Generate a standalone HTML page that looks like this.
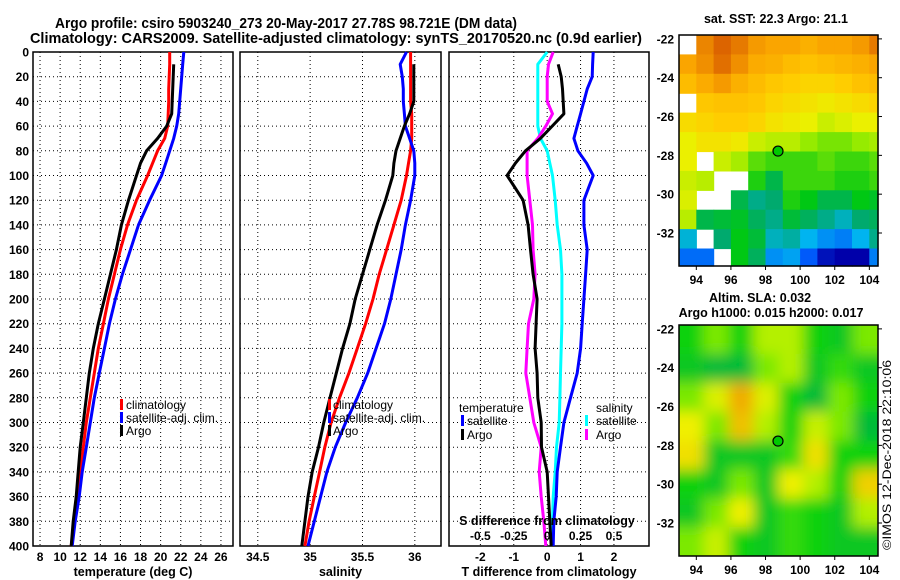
<!DOCTYPE html>
<html><head><meta charset="utf-8"><style>
html,body{margin:0;padding:0;background:#fff;}
svg{display:block;font-family:"Liberation Sans",sans-serif;font-weight:bold;}
</style></head><body>
<svg id="fig" width="900" height="580" viewBox="0 0 900 580" xmlns="http://www.w3.org/2000/svg">
<rect width="900" height="580" fill="#fff"/>
<text x="55" y="28" font-size="15" textLength="462" lengthAdjust="spacingAndGlyphs">Argo profile: csiro 5903240_273 20-May-2017 27.78S 98.721E (DM data)</text>
<text x="30" y="43" font-size="15" textLength="612" lengthAdjust="spacingAndGlyphs">Climatology: CARS2009. Satellite-adjusted climatology: synTS_20170520.nc (0.9d earlier)</text>
<g id="panels"></g>
<g id="maps"></g>
<text transform="translate(891,455) rotate(-90)" font-size="12" font-weight="normal" text-anchor="middle" textLength="190" lengthAdjust="spacingAndGlyphs">©IMOS 12-Dec-2018 22:10:06</text>
</svg>
<script>
// ---- profile data (depth in m) ----
const depths = [0,10,20,30,40,50,60,70,80,90,100,120,140,160,180,200,220,240,260,280,300,320,340,360,380,400];
const tempClim = [20.9,20.9,20.85,20.8,20.8,20.75,20.7,20.4,19.7,19.2,18.7,17.6,16.7,16.0,15.4,14.8,14.3,13.8,13.4,13.0,12.6,12.3,12.0,11.7,11.4,11.1];
const tempSat = [22.3,22.2,22.1,22.0,21.9,21.8,21.6,21.3,20.9,20.5,20.1,18.9,17.8,17.0,16.2,15.5,14.9,14.4,13.9,13.4,13.0,12.6,12.2,11.9,11.5,11.2];
const tempArgo = [null,21.3,21.25,21.2,21.15,21.1,20.6,19.7,18.6,18.0,17.6,16.8,16.1,15.6,15.0,14.4,13.8,13.3,12.9,12.6,12.3,12.0,11.8,11.6,11.3,11.1];
const salClim = [35.96,35.96,35.96,35.96,35.96,35.97,35.97,35.97,35.96,35.94,35.92,35.87,35.80,35.73,35.66,35.60,35.53,35.45,35.37,35.28,35.20,35.14,35.09,35.04,34.99,34.95];
const salSat = [35.92,35.86,35.88,35.89,35.89,35.90,35.91,35.95,35.99,36.0,36.0,35.96,35.91,35.87,35.82,35.77,35.71,35.63,35.55,35.45,35.34,35.24,35.16,35.10,35.04,34.98];
const salArgo = [null,35.99,35.99,35.99,35.99,35.95,35.90,35.86,35.82,35.80,35.79,35.72,35.64,35.57,35.50,35.43,35.38,35.31,35.25,35.19,35.13,35.08,35.02,34.98,34.95,34.92];
const dTSat = [1.38,1.36,1.35,1.2,1.1,1.0,0.9,0.8,0.92,1.18,1.38,1.1,1.1,1.2,1.15,1.1,1.05,1.0,0.9,0.7,0.5,0.4,0.3,0.27,0.2,0.18];
const dTArgo = [null,0.33,0.42,0.46,0.48,0.5,0.15,-0.2,-0.65,-0.95,-1.2,-0.72,-0.57,-0.5,-0.42,-0.3,-0.33,-0.36,-0.3,-0.28,-0.18,-0.17,0.0,0.04,0.08,0.12];
const dSSat = [0.0,-0.07,-0.07,-0.07,-0.07,-0.07,-0.07,-0.05,0.0,0.02,0.04,0.06,0.075,0.1,0.11,0.11,0.11,0.105,0.1,0.095,0.09,0.07,0.06,0.045,0.04,0.04];
const dSArgo = [0.045,0.01,0.0,0.0,0.0,0.04,-0.01,-0.07,-0.15,-0.15,-0.15,-0.13,-0.11,-0.105,-0.09,-0.1,-0.14,-0.15,-0.16,-0.13,-0.1,-0.045,-0.06,-0.045,-0.025,-0.01];
const depthTicks = [0,20,40,60,80,100,120,140,160,180,200,220,240,260,280,300,320,340,360,380,400];
const tempTicks = [8,10,12,14,16,18,20,22,24,26];
const salTicks = [34.5,35,35.5,36];
const dTTicks = [-2,-1,0,1,2];
const dSTicks = [-0.5,-0.25,0,0.25,0.5];
const dSTickLabels = ['-0.5','-0.25','0','0.25','0.5'];
// ---- map data ----
const sstLons = [93,94,95,96,97,98,99,100,101,102,103,104,104.5];
const sstLats = [-21.8,-22.8,-23.8,-24.8,-25.8,-26.8,-27.8,-28.8,-29.8,-30.8,-31.8,-32.8,-33.7];
const sstGrid = [
[null,23.3,23.6,23.4,23.1,23.0,23.0,22.8,23.0,23.0,23.1,23.4],
[23.0,23.2,23.5,23.2,22.9,22.8,22.6,22.5,22.6,22.7,22.8,23.0],
[22.6,22.9,23.1,22.8,22.6,22.4,22.3,22.2,22.2,22.3,22.5,22.6],
[null,22.4,22.5,22.5,22.4,22.2,22.1,22.0,21.9,22.0,22.1,22.2],
[22.1,22.2,22.3,22.3,22.2,22.0,21.9,21.8,21.6,21.7,21.8,21.8],
[21.8,22.0,22.0,21.9,21.6,21.5,21.5,21.3,21.2,21.2,21.3,21.4],
[21.8,null,21.6,21.4,21.1,21.0,21.0,21.0,21.1,21.0,21.0,21.1],
[21.6,21.5,null,null,20.9,20.5,21.0,21.0,21.0,20.9,20.9,21.0],
[21.7,null,null,20.5,20.2,20.3,20.9,20.8,20.5,20.5,20.8,20.7],
[21.5,20.5,20.6,20.7,20.4,20.2,20.6,20.4,20.2,20.0,20.3,20.4],
[19.9,null,20.3,20.8,20.6,20.0,20.1,19.8,19.6,19.5,19.8,20.2],
[19.4,19.4,null,20.8,20.4,19.6,19.7,19.3,18.9,18.8,18.8,19.5]];
const slaGrid = [
[0.3,0.45,0.3,0.55,0.55,0.3,0.2,0.45],
[0.2,0.1,0.1,0.45,0.55,0.2,0.35,0.2],
[0.45,0.65,0.9,0.65,0.3,0.1,0.45,0.3],
[0.7,0.45,0.85,0.55,0.3,0.6,0.45,0.1],
[0.75,0.2,0.2,0.2,0.35,0.75,0.3,0.3],
[0.3,0.2,0.45,0.2,0.7,0.55,0.3,0.8],
[0.2,0.45,0.7,0.2,0.35,0.3,0.2,0.55],
[0.45,0.6,0.3,0.2,0.35,0.3,0.2,0.2]];
const lonTicks = [94,96,98,100,102,104];
const latTicks = [-22,-24,-26,-28,-30,-32];
const argoLon = 98.721, argoLat = -27.78;

const NS='http://www.w3.org/2000/svg';
function mk(tag, attrs, parent){const e=document.createElementNS(NS,tag);for(const k in attrs)e.setAttribute(k,attrs[k]);parent.appendChild(e);return e;}
const TOP=52, BOT=546;
const yD = d => TOP + d*(BOT-TOP)/400;
const panelsG = document.getElementById('panels');

function panel(name, x0, x1, xmin, xmax, ticks, tickLabels, title){
  const g = mk('g',{},panelsG);
  
  
  const sx = v => x0 + (v-xmin)*(x1-x0)/(xmax-xmin);
  depthTicks.forEach(d=>{ if(d>0&&d<400){const l=mk('line',{x1:x0,x2:x1,y1:yD(d),y2:yD(d),stroke:'#000','stroke-width':1,'stroke-dasharray':'1,3'},g);
    
    }});
  ticks.forEach((t,i)=>{const x=sx(t);
    const l=mk('line',{x1:x,x2:x,y1:TOP,y2:BOT,stroke:'#000','stroke-width':1,'stroke-dasharray':'1,3'},g);
    
    
    if(tickLabels){const tx=mk('text',{x:x,y:561,'font-size':12,'text-anchor':'middle'},g);tx.textContent=tickLabels[i];
      
      }
  });
  const fr=mk('rect',{x:x0,y:TOP,width:x1-x0,height:BOT-TOP,fill:'none',stroke:'#000','stroke-width':1.5},g);
  
  
  const tt=mk('text',{x:(x0+x1)/2,y:576,'font-size':12.5,'text-anchor':'middle'},g);tt.textContent=title;
  
  
  return {g,sx};
}
function series(p, vals, color, name, sxf){
  const f = sxf||p.sx; let d='';let pen=false;
  vals.forEach((v,i)=>{ if(v===null){pen=false;return;} d+=(pen?'L':'M')+f(v).toFixed(1)+','+yD(depths[i]).toFixed(1); pen=true;});
  const path=mk('path',{d:d,fill:'none',stroke:color,'stroke-width':3,'stroke-linejoin':'round'},p.g);
  
  
}
function legend(g,x,y,color,label,tx){
  const r=mk('rect',{x:x,y:y-9,width:3,height:11,fill:color},g);
  
  
  const t=mk('text',{x:tx,y:y+1,'font-size':12,'font-weight':'normal'},g);t.textContent=label;
  
  
}

depthTicks.forEach(d=>{const t=mk('text',{x:29,y:yD(d)+4.5,'font-size':12,'text-anchor':'end'},panelsG);t.textContent=d;
  
  });

const p1=panel('temperature-panel',33,233,7.3,27.2,tempTicks,tempTicks.map(String),'temperature (deg C)');
series(p1,tempClim,'#f00','temp-climatology-line');
series(p1,tempSat,'#00f','temp-satellite-line');
series(p1,tempArgo,'#000','temp-argo-line');
legend(p1.g,120,408,'#f00','climatology',126);
legend(p1.g,120,421,'#00f','satellite-adj. clim.',126);
legend(p1.g,120,434,'#000','Argo',126);

const p2=panel('salinity-panel',240,441,34.33,36.25,salTicks,['34.5','35','35.5','36'],'salinity');
series(p2,salClim,'#f00','sal-climatology-line');
series(p2,salSat,'#00f','sal-satellite-line');
series(p2,salArgo,'#000','sal-argo-line');
legend(p2.g,328,408,'#f00','climatology',333);
legend(p2.g,328,421,'#00f','satellite-adj. clim.',333);
legend(p2.g,328,434,'#000','Argo',333);

const p3=panel('difference-panel',449,649,-2.94,3.05,dTTicks,dTTicks.map(String),'T difference from climatology');
const sxS = v => p3.sx(v*4);
series(p3,dSSat,'#0ff','s-diff-satellite-line',sxS);
series(p3,dTSat,'#00f','t-diff-satellite-line');
series(p3,dSArgo,'#f0f','s-diff-argo-line',sxS);
series(p3,dTArgo,'#000','t-diff-argo-line');
(function(){
  const t1=mk('text',{x:459,y:412,'font-size':12,'font-weight':'normal'},p3.g);t1.textContent='temperature';
  
  
  const t2=mk('text',{x:596,y:412,'font-size':12,'font-weight':'normal'},p3.g);t2.textContent='salinity';
  
  
  legend(p3.g,461,424,'#00f','satellite',467);
  legend(p3.g,461,438,'#000','Argo',467);
  legend(p3.g,585,424,'#0ff','satellite',596);
  legend(p3.g,585,438,'#f0f','Argo',596);
  const st=mk('text',{x:547,y:525,'font-size':12.5,'text-anchor':'middle'},p3.g);st.textContent='S difference from climatology';
  
  
  dSTicks.forEach((v,i)=>{const t=mk('text',{x:sxS(v),y:540,'font-size':12,'text-anchor':'middle'},p3.g);t.textContent=dSTickLabels[i];
    
    });
})();

// ---- maps ----
const mapsG=document.getElementById('maps');
function lerpColor(stops,v){
  const rgb=a=>'rgb('+a.join(',')+')';
  if(v<=stops[0][0])return rgb(stops[0][1]);
  for(let i=1;i<stops.length;i++){if(v<=stops[i][0]){const a=stops[i-1],b=stops[i];const f=(v-a[0])/(b[0]-a[0]);
    return rgb([0,1,2].map(k=>Math.round(a[1][k]+(b[1][k]-a[1][k])*f)));}}
  return rgb(stops[stops.length-1][1]);
}
const sstStops=[[18.8,[0,0,170]],[19.3,[0,90,250]],[19.8,[0,180,240]],[20.3,[0,170,110]],[20.8,[0,200,20]],[21.3,[150,235,0]],[21.8,[235,240,0]],[22.3,[255,205,0]],[23.0,[250,165,0]],[23.6,[220,100,0]]];
const slaStops=[[0,[0,176,74]],[0.3,[16,210,16]],[0.5,[160,240,0]],[0.7,[240,240,0]],[0.85,[240,192,0]],[1,[240,128,0]]];

const MX0=679, MX1=878, LON0=93, LON1=104.5, LATT=-21.8, LATB=-33.7;
function mapFrame(name,y0,y1){
  const g=mk('g',{},mapsG);
  
  
  const lx=lon=>MX0+(lon-LON0)*(MX1-MX0)/(LON1-LON0);
  const ly=lat=>y0+(LATT-lat)*(y1-y0)/(LATT-LATB);
  return {g,lx,ly,y0,y1};
}
function mapAxes(m,labelY){
  const fr=mk('rect',{x:MX0,y:m.y0,width:MX1-MX0,height:m.y1-m.y0,fill:'none',stroke:'#000','stroke-width':1.5},m.g);
  
  
  lonTicks.forEach(l=>{const t=mk('text',{x:m.lx(l),y:labelY,'font-size':12,'text-anchor':'middle'},m.g);t.textContent=l;
    
    
    mk('line',{x1:m.lx(l),x2:m.lx(l),y1:m.y1,y2:m.y1+4,stroke:'#000'},m.g);});
  latTicks.forEach(l=>{const t=mk('text',{x:674,y:m.ly(l)+4.5,'font-size':12,'text-anchor':'end'},m.g);t.textContent=l;
    
    
    mk('line',{x1:MX1,x2:MX1+4,y1:m.ly(l),y2:m.ly(l),stroke:'#000'},m.g);});
  const c=mk('circle',{cx:m.lx(argoLon),cy:m.ly(argoLat),r:5,fill:'#00c800',stroke:'#000','stroke-width':1.2},m.g);
  
  
}
const m1=mapFrame('sst-map',35,266);
mk('rect',{x:MX0,y:35,width:MX1-MX0,height:231,fill:'#fff'},m1.g);
sstGrid.forEach((row,r)=>row.forEach((v,c)=>{ if(v===null)return;
  const x=m1.lx(sstLons[c]), x2=m1.lx(sstLons[c+1]), y=m1.ly(sstLats[r]), y2=m1.ly(sstLats[r+1]);
  const cell=mk('rect',{x:x.toFixed(1),y:y.toFixed(1),width:(x2-x+0.6).toFixed(1),height:(y2-y+0.6).toFixed(1),fill:lerpColor(sstStops,v)},m1.g);
  
  
}));
mapAxes(m1,284);
const st1=mk('text',{x:776,y:23,'font-size':12.5,'text-anchor':'middle'},mapsG);st1.textContent='sat. SST: 22.3 Argo: 21.1';



const m2=mapFrame('sla-map',325,556);
const defs=mk('defs',{},mapsG);
const flt=mk('filter',{id:'blur',x:'-10%',y:'-10%',width:'120%',height:'120%'},defs);
mk('feGaussianBlur',{stdDeviation:7},flt);
const cp=mk('clipPath',{id:'slaclip'},defs);
mk('rect',{x:MX0,y:325,width:MX1-MX0,height:231},cp);
const clipG=mk('g',{'clip-path':'url(#slaclip)'},m2.g);
const blurG=mk('g',{filter:'url(#blur)'},clipG);
const nR=slaGrid.length,nC=slaGrid[0].length;
slaGrid.forEach((row,r)=>row.forEach((v,c)=>{
  const cw=(MX1-MX0)/nC, ch=231/nR;
  let x=MX0+c*cw, y=325+r*ch, w=cw, h=ch;
  if(c===0){x-=20;w+=20;} if(c===nC-1){w+=20;} if(r===0){y-=20;h+=20;} if(r===nR-1){h+=20;}
  const cell=mk('rect',{x:x.toFixed(1),y:y.toFixed(1),width:(w+0.5).toFixed(1),height:(h+0.5).toFixed(1),fill:lerpColor(slaStops,v)},blurG);
  
  
}));
mapAxes(m2,574);
const st2=mk('text',{x:760,y:302,'font-size':12.5,'text-anchor':'middle'},mapsG);st2.textContent='Altim. SLA: 0.032';


const st3=mk('text',{x:771,y:317,'font-size':12.5,'text-anchor':'middle'},mapsG);st3.textContent='Argo h1000: 0.015 h2000: 0.017';


</script>
</body></html>
